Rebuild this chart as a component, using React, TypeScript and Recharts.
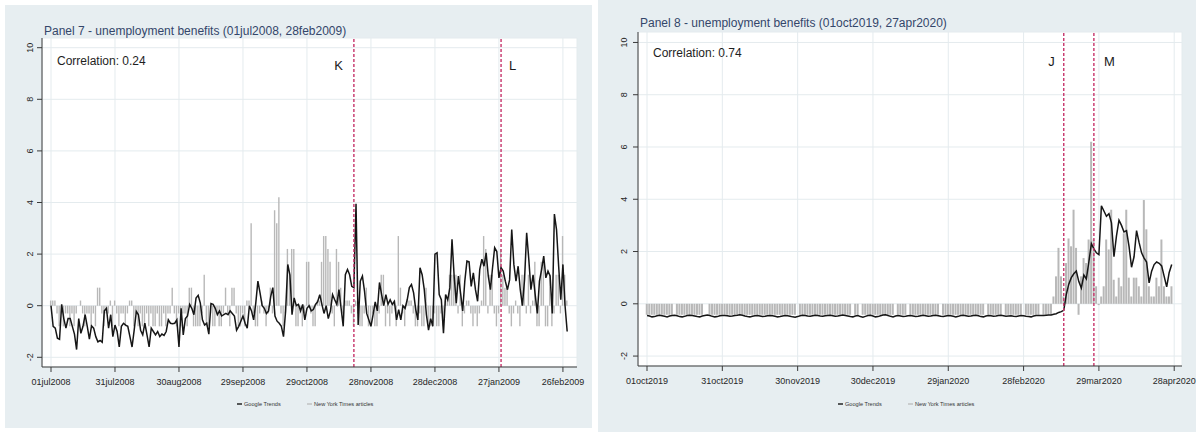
import React from "react";
import {
    ComposedChart,
    Bar,
    Line,
    XAxis,
    YAxis,
    CartesianGrid,
    ReferenceLine,
} from "recharts";

const FONT = '"Liberation Sans", Arial, Helvetica, sans-serif';

const yTicks = [-2, 0, 2, 4, 6, 8, 10];
const legendLabels = ["Google Trends", "New York Times articles"];

// Panel 7 - 01jul2008 .. 28feb2009 (day 0 = 01jul2008)
const p7TickDays = [0, 30, 60, 90, 120, 150, 180, 210, 240];
const p7TickLabels = [
    "01jul2008", "31jul2008", "30aug2008", "29sep2008", "29oct2008",
    "28nov2008", "28dec2008", "27jan2009", "26feb2009",
];
const p7EventDays = [142, 211];
const p7EventLabels = ["K", "L"];

const p7Trends = [
    0, -0.8, -0.87, -1.26, -1.3, 0.05, -0.5, -0.87, -0.5, -0.5,
    -0.8, -1.1, -1.7, -0.5, -1.07, -0.8, -0.35, -0.8, -1.3, -0.78,
    -0.87, -1.2, -1.4, -1.35, -1.42, -0.2, -0.1, -0.87, -0.35, -1.2,
    -0.75, -1.0, -1.6, -0.8, -0.68, -0.75, -0.8, -1.2, -1.6, -0.95,
    -0.22, -0.35, -0.95, -1.13, -0.68, -1.13, -1.6, -0.87, -1.0, -1.13,
    -1.0, -1.2, -1.1, -1.15, -1.0, -0.55, -0.68, -0.7, -0.68, -0.55,
    -1.6, -0.1, -1.13, -0.5, -0.4, 0.05, -0.1, -0.35, 0.3, 0.4,
    0.1, -0.55, -0.75, -0.68, -1.1, 0.08, 0.05, -0.1, -0.35, -0.2,
    -0.4, -0.35, -0.3, -0.35, -0.2, -0.3, -0.4, -0.95, -0.8, -0.6,
    -0.4, -0.68, -0.87, 0, -0.2, -0.55, 0.1, 0.95, 0.5, 0,
    -0.1, -0.3, -0.2, 0.35, 0.7, -0.4, -0.6, -0.68, -0.8, -1.2,
    -0.2, 1.6, 1.2, -0.35, 0.3, 0, 0.05, -0.2, 0.05, -0.55,
    -0.1, 0, -0.2, -0.15, 0.05, 0.15, 0.43, 0.05, -0.3, 0,
    -0.5, -0.2, 0.43, 0.23, 0.05, 0.62, -0.1, -0.8, 1.2, 1.4,
    1.2, 0.75, 0.7, 3.95, -0.75, 0.95, 1.15, 0.55, -0.3, -0.55,
    -0.8, -0.35, 0.15, -0.2, 0.9, 0.43, 0, 0.43, 0.05, 0.23,
    0.05, 0.17, -0.55, -0.15, -0.55, 0, -0.1, 0.23, 0.7, 0.82,
    0.5, -0.15, -0.55, 1.47, 1.2, 0.62, -0.35, -0.95, -0.5, -0.8,
    2.0, 2.05, 0.43, 0.23, -1.07, 0.43, 0.23, 0.7, 2.57, 1.15,
    0.1, 1.15, 0.5, -0.2, 0.95, 1.73, 1.7, 0.75, 1.27, 0.62,
    0.17, 1.4, 1.8, 1.53, 2.05, 1.15, 0.62, 1.47, 2.25, 2.1,
    1.08, 1.47, 1.34, 0.95, 0.62, 1.0, 2.95, 1.6, 0.95, 1.53,
    0.62, 0, 1.0, 2.83, 1.8, 0.62, 1.2, 0.43, -0.3, 0.95,
    1.4, 1.92, 1.08, 1.34, 1.15, -0.3, 3.55, 2.95, 1.53, 0.23,
    1.6, 0, -1.0,
];

const p7Nyt = [
    0.2, 0.2, 0.2, -0.3, -0.8, -0.3, -0.8, -0.3, -0.3, -0.8,
    -0.3, -0.8, -0.3, 0, 0.2, -0.3, -0.8, -0.3, -0.3, -0.8,
    -0.3, -0.8, 0.7, 0.7, -0.3, -0.8, -0.3, -0.3, 0.2, -0.8,
    0.2, -0.3, -0.8, -0.3, -0.3, -0.8, -0.3, 0.2, 0.2, -0.8,
    -0.3, -0.8, -0.3, -0.8, -0.8, -0.3, -0.8, -0.3, -0.8, -0.8,
    -0.3, -0.8, -0.8, -0.3, -0.8, -0.3, -0.3, 0.7, -0.3, -0.8,
    -0.3, -0.8, -0.3, -0.3, -0.8, 0.7, 0.7, -0.8, -0.8, -0.8,
    -0.8, -0.3, 1.2, -0.8, -0.8, -0.3, -0.8, -0.8, -0.3, -0.8,
    -0.8, -0.3, 0.7, -0.3, -0.8, 0.7, 0.7, -0.3, -0.8, -0.8,
    -0.3, -0.8, 0.2, 0.2, 3.2, -0.3, -0.8, -0.8, -0.3, 0.2,
    -0.3, -0.8, -0.3, 0.7, -0.3, 3.7, 3.2, 4.2, -0.3, -0.8,
    -0.3, 2.2, 1.2, 2.2, 2.2, -0.8, -0.8, -0.3, -0.8, -0.3,
    1.7, 1.7, -0.3, -0.8, -0.8, 0.2, 0.2, 1.7, 2.7, 2.7,
    2.2, 1.7, -0.3, -0.8, 2.2, 1.7, 0.7, -0.3, 0.2, 0.2,
    0.2, -0.3, -0.8, 0.2, -0.3, -0.8, -0.8, -0.3, 0.7, -0.8,
    -0.8, -0.3, -0.8, -0.8, -0.3, 1.2, 1.2, -0.8, -0.3, -0.8,
    -0.3, 0.2, -0.8, 2.7, 0.7, -0.3, -0.8, 0.2, 0.2, 0.2,
    -0.3, -0.8, -0.8, -0.3, -0.8, -0.8, 0.7, -0.8, -0.8, -0.8,
    -0.3, -0.8, -0.8, -0.3, -0.8, 0.2, 0.2, 1.2, 1.2, 1.2,
    1.2, -0.3, 1.2, -0.8, -0.3, 0.2, 0.2, -0.3, -0.8, -0.3,
    -0.8, -0.3, 0.2, 2.7, 2.2, -0.3, 1.2, 1.2, -0.3, -0.8,
    -0.3, 2.2, 1.2, 0.7, 0.7, -0.3, -0.8, -0.3, 0.2, -0.3,
    -0.8, 1.2, 1.2, -0.3, 1.2, -0.3, 0.2, 1.7, -0.8, -0.8,
    1.7, 1.7, -0.8, -0.8, 1.2, -0.8, -0.3, 1.2, 1.2, -0.3,
    2.7, 1.2, 0.2,
];

// Panel 8 - 01oct2019 .. 27apr2020 (day 0 = 01oct2019)
const p8TickDays = [0, 30, 60, 90, 120, 150, 180, 210];
const p8TickLabels = [
    "01oct2019", "31oct2019", "30nov2019", "30dec2019",
    "29jan2020", "28feb2020", "29mar2020", "28apr2020",
];
const p8EventDays = [166, 178];
const p8EventLabels = ["J", "M"];

const p8Trends = [
    -0.45, -0.47, -0.5, -0.49, -0.46, -0.44, -0.46, -0.48, -0.5, -0.47,
    -0.45, -0.44, -0.46, -0.49, -0.5, -0.48, -0.45, -0.44, -0.45, -0.47,
    -0.49, -0.5, -0.47, -0.45, -0.43, -0.45, -0.48, -0.5, -0.49, -0.46,
    -0.45, -0.45, -0.46, -0.48, -0.47, -0.45, -0.44, -0.42, -0.44, -0.47,
    -0.49, -0.5, -0.48, -0.46, -0.45, -0.47, -0.49, -0.48, -0.46, -0.45,
    -0.46, -0.48, -0.5, -0.49, -0.47, -0.45, -0.46, -0.48, -0.5, -0.51,
    -0.49, -0.46, -0.44, -0.45, -0.47, -0.48, -0.46, -0.44, -0.45, -0.47,
    -0.48, -0.46, -0.45, -0.44, -0.46, -0.48, -0.47, -0.45, -0.43, -0.45,
    -0.47, -0.49, -0.5, -0.47, -0.45, -0.49, -0.51, -0.48, -0.45, -0.44,
    -0.47, -0.5, -0.49, -0.46, -0.43, -0.42, -0.45, -0.48, -0.5, -0.47,
    -0.45, -0.47, -0.49, -0.48, -0.46, -0.45, -0.47, -0.49, -0.48, -0.46,
    -0.44, -0.46, -0.48, -0.47, -0.45, -0.44, -0.46, -0.48, -0.49, -0.47,
    -0.45, -0.46, -0.48, -0.5, -0.48, -0.45, -0.44, -0.46, -0.48, -0.47,
    -0.45, -0.44, -0.46, -0.49, -0.5, -0.47, -0.45, -0.46, -0.48, -0.47,
    -0.45, -0.44, -0.46, -0.48, -0.47, -0.46, -0.48, -0.49, -0.47, -0.45,
    -0.46, -0.48, -0.49, -0.5, -0.47, -0.45, -0.45, -0.45, -0.45, -0.44,
    -0.43, -0.43, -0.4, -0.38, -0.33, -0.3, -0.25, 0.35, 0.75, 1.0,
    1.15, 1.25, 0.85, 0.6, 1.1, 0.95, 1.6, 2.3, 2.1, 1.95,
    1.88, 3.75, 3.55, 3.35, 3.45, 3.1, 1.8, 2.6, 3.2, 3.0,
    2.75, 2.8, 2.2, 1.4, 1.8, 2.8, 2.35, 1.95, 1.75, 1.6,
    0.8, 1.25, 1.5, 1.6, 1.55, 1.45, 1.05, 0.65, 1.2, 1.5,
];

const p8Nyt = [
    -0.42, -0.42, -0.42, -0.42, -0.42, -0.42, -0.42, -0.42, -0.42, -0.42,
    -0.42, 0, -0.42, -0.42, -0.42, -0.42, -0.42, -0.42, -0.42, -0.42,
    -0.42, -0.42, -0.42, 0, 0, -0.42, -0.42, -0.42, -0.42, -0.42,
    -0.42, -0.42, -0.42, -0.42, -0.42, -0.42, -0.42, -0.42, -0.42, -0.42,
    -0.42, -0.42, -0.42, -0.42, -0.42, -0.42, -0.42, -0.42, -0.42, -0.42,
    -0.42, -0.42, -0.42, -0.42, -0.42, -0.42, -0.42, -0.42, -0.42, -0.42,
    0, -0.42, -0.42, -0.42, -0.42, -0.42, -0.42, -0.42, -0.42, -0.42,
    -0.42, -0.42, -0.42, -0.42, -0.42, -0.42, -0.42, -0.42, -0.42, -0.42,
    -0.42, -0.42, 0, -0.42, -0.42, 0, -0.42, -0.42, -0.42, -0.42,
    -0.42, -0.42, -0.42, -0.42, -0.42, -0.42, -0.42, -0.42, -0.42, 0,
    -0.42, -0.42, -0.42, -0.42, 0, -0.42, -0.42, -0.42, -0.42, -0.42,
    -0.42, -0.42, -0.42, -0.42, -0.42, -0.42, -0.42, 0, -0.42, -0.42,
    -0.42, -0.42, -0.42, -0.42, -0.42, -0.42, -0.42, -0.42, -0.42, -0.42,
    -0.42, -0.42, -0.42, -0.42, -0.42, 0, -0.42, -0.42, -0.42, -0.42,
    -0.42, -0.42, 0, -0.42, -0.42, -0.42, -0.42, -0.42, -0.42, -0.42,
    0, -0.42, -0.42, -0.42, -0.42, -0.42, -0.42, 0, -0.42, -0.42,
    -0.42, -0.42, 0.28, 1.05, 2.14, 1.05, 0.28, 1.56, 2.5, 2.2,
    3.6, 2.14, -0.42, 1.05, 1.75, 1.56, 2.46, 6.2, 2.46, 0.67,
    -0.05, 0.28, 0.67, 2.46, 2.08, 3.6, 0.92, 0.28, 1.0, 0.67,
    2.7, 3.6, 1.0, 0.28, 1.0, 1.0, 0.67, 0.28, 3.97, 2.85,
    0.67, 0.28, 0.28, 1.0, 0.67, 2.46, 0.67, 0.28, 0.28, 0.67,
];

const RotatedTick = (props: any) => {
    const { x, y, payload, gap } = props;
    const cx = x - gap;
    return (
        <text
            x={cx}
            y={y}
            transform={`rotate(-90, ${cx}, ${y})`}
            textAnchor="middle"
            dy="0.35em"
            fontSize={9}
            fill="#262626"
            fontFamily={FONT}
        >
            {payload.value}
        </text>
    );
};

const EventLabel = (props: any) => {
    const { viewBox, text, side, gap, dy } = props;
    if (!viewBox) return null;
    const x = side === "left" ? viewBox.x - gap : viewBox.x + gap;
    return (
        <text
            x={x}
            y={viewBox.y + dy}
            textAnchor={side === "left" ? "end" : "start"}
            fontSize={13}
            fill="#1a1a1a"
            fontFamily={FONT}
        >
            {text}
        </text>
    );
};

interface PanelProps {
    box: { left: number; top: number; width: number; height: number };
    plot: { left: number; right: number; top: number; bottom: number };
    xDomain: [number, number];
    yDomain: [number, number];
    tickDays: number[];
    tickLabels: string[];
    trends: number[];
    nyt: number[];
    eventDays: number[];
    eventLabels: string[];
    eventGaps: number[];
    eventDy: number;
    title: string;
    correlation: string;
    titlePos: [number, number];
    corrPos: [number, number];
    legendPos: [number, number, number];
    barSize: number;
    yLabelGap: number;
}

const Panel: React.FC<PanelProps> = (p) => {
    const data = p.trends.map((v, i) => ({ day: i, trends: v, nyt: p.nyt[i] }));
    const yAxisWidth = 30;
    const xAxisHeight = 30;
    const margin = {
        top: p.plot.top,
        right: p.box.width - p.plot.right,
        left: p.plot.left - yAxisWidth,
        bottom: p.box.height - p.plot.bottom - xAxisHeight,
    };
    const [lx1, lx2, ly] = p.legendPos;

    return (
        <div
            style={{
                position: "absolute",
                left: p.box.left,
                top: p.box.top,
                width: p.box.width,
                height: p.box.height,
                background: "#e7eef1",
            }}
        >
            <ComposedChart width={p.box.width} height={p.box.height} data={data} margin={margin}>
                <CartesianGrid fill="#ffffff" stroke="#e4ebee" strokeWidth={1} />
                <XAxis
                    dataKey="day"
                    type="number"
                    domain={p.xDomain}
                    allowDataOverflow
                    ticks={p.tickDays}
                    interval={0}
                    height={xAxisHeight}
                    tickSize={5}
                    tickMargin={7}
                    axisLine={{ stroke: "#3a3a3a" }}
                    tickLine={{ stroke: "#3a3a3a" }}
                    tick={{ fontSize: 9, fill: "#262626", fontFamily: FONT }}
                    tickFormatter={(d: number) => p.tickLabels[p.tickDays.indexOf(d)]}
                />
                <YAxis
                    type="number"
                    domain={p.yDomain}
                    allowDataOverflow
                    ticks={yTicks}
                    interval={0}
                    width={yAxisWidth}
                    tickSize={5}
                    tickMargin={2}
                    axisLine={{ stroke: "#3a3a3a" }}
                    tickLine={{ stroke: "#3a3a3a" }}
                    tick={<RotatedTick gap={p.yLabelGap} />}
                />
                <Bar
                    dataKey="nyt"
                    fill="#b8b8b8"
                    barSize={p.barSize}
                    isAnimationActive={false}
                />
                <Line
                    dataKey="trends"
                    type="linear"
                    stroke="#161616"
                    strokeWidth={1.5}
                    dot={false}
                    activeDot={false}
                    isAnimationActive={false}
                />
                {p.eventDays.map((d, i) => (
                    <ReferenceLine
                        key={d}
                        x={d}
                        stroke="#c6336a"
                        strokeWidth={1.4}
                        strokeDasharray="3 2"
                        label={
                            <EventLabel
                                text={p.eventLabels[i]}
                                side={p.eventGaps[i] < 0 ? "left" : "right"}
                                gap={Math.abs(p.eventGaps[i])}
                                dy={p.eventDy}
                            />
                        }
                    />
                ))}
            </ComposedChart>
            <svg
                width={p.box.width}
                height={p.box.height}
                style={{ position: "absolute", left: 0, top: 0, pointerEvents: "none" }}
                fontFamily={FONT}
            >
                <text x={p.titlePos[0]} y={p.titlePos[1]} fontSize={12} fill="#34466a">
                    {p.title}
                </text>
                <text x={p.corrPos[0]} y={p.corrPos[1]} fontSize={12} fill="#1e1e1e">
                    {p.correlation}
                </text>
                <line x1={lx1} x2={lx1 + 5} y1={ly} y2={ly} stroke="#161616" strokeWidth={1.4} />
                <text x={lx1 + 7} y={ly} dy="0.35em" fontSize={5.6} fill="#333">
                    {legendLabels[0]}
                </text>
                <line x1={lx2} x2={lx2 + 5} y1={ly} y2={ly} stroke="#b8b8b8" strokeWidth={1.2} />
                <text x={lx2 + 7} y={ly} dy="0.35em" fontSize={5.6} fill="#333">
                    {legendLabels[1]}
                </text>
            </svg>
        </div>
    );
};

const App: React.FC = () => {
    return (
        <div
            style={{
                position: "absolute",
                left: 0,
                top: 0,
                width: 1196,
                height: 432,
                background: "#ffffff",
                overflow: "hidden",
                fontFamily: FONT,
            }}
        >
            <Panel
                box={{ left: 5, top: 5, width: 587, height: 423 }}
                plot={{ left: 37, right: 572, top: 33, bottom: 362 }}
                xDomain={[-4.22, 246.6]}
                yDomain={[-2.376, 10.376]}
                tickDays={p7TickDays}
                tickLabels={p7TickLabels}
                trends={p7Trends}
                nyt={p7Nyt}
                eventDays={p7EventDays}
                eventLabels={p7EventLabels}
                eventGaps={[-11, 8]}
                eventDy={31.5}
                title="Panel 7 - unemployment benefits (01jul2008, 28feb2009)"
                correlation="Correlation: 0.24"
                titlePos={[39, 29.5]}
                corrPos={[52, 60]}
                legendPos={[232, 302, 399]}
                barSize={1.4}
                yLabelGap={5.5}
            />
            <Panel
                box={{ left: 598, top: 0, width: 598, height: 432 }}
                plot={{ left: 40, right: 584, top: 32, bottom: 366 }}
                xDomain={[-3.59, 213.1]}
                yDomain={[-2.38, 10.4]}
                tickDays={p8TickDays}
                tickLabels={p8TickLabels}
                trends={p8Trends}
                nyt={p8Nyt}
                eventDays={p8EventDays}
                eventLabels={p8EventLabels}
                eventGaps={[-9, 10]}
                eventDy={33.7}
                title="Panel 8 - unemployment benefits (01oct2019, 27apr2020)"
                correlation="Correlation: 0.74"
                titlePos={[42, 27.3]}
                corrPos={[55, 57.3]}
                legendPos={[240, 310, 404]}
                barSize={2}
                yLabelGap={7}
            />
        </div>
    );
};

export default App;
